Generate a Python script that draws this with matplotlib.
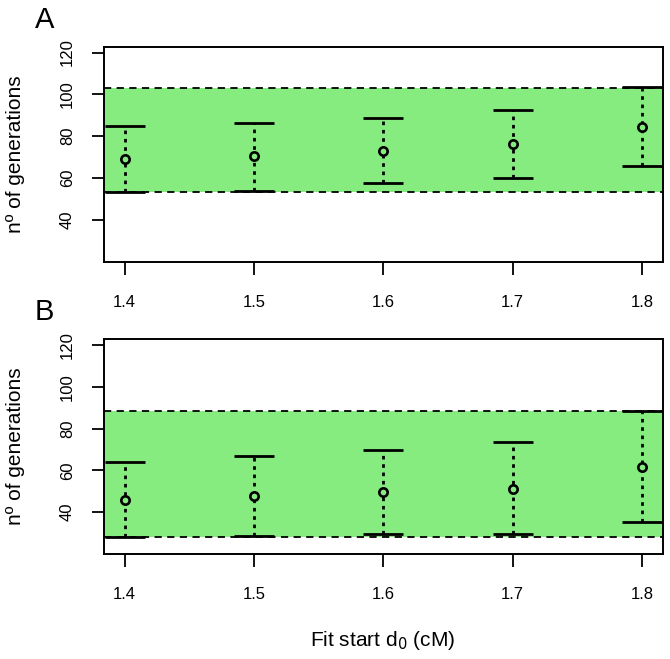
import matplotlib
matplotlib.use("Agg")
import matplotlib.pyplot as plt
import numpy as np

plt.rcParams['font.family'] = ['Liberation Sans', 'DejaVu Sans']

# ---- data ----
x_vals = [1.4, 1.5, 1.6, 1.7, 1.8]
x_ticklabels = ["1.4", "1.5", "1.6", "1.7", "1.8"]
y_ticks = [40, 60, 80, 100, 120]

# Panel A
a_mid = [69.2, 70.5, 73.0, 76.3, 84.4]
a_low = [53.3, 54.0, 57.4, 60.1, 65.9]
a_high = [85.0, 86.5, 88.9, 92.7, 103.3]
a_band = (53.3, 103.1)

# Panel B
b_mid = [46.0, 47.6, 49.5, 51.2, 61.8]
b_low = [28.3, 28.4, 29.4, 29.4, 35.3]
b_high = [63.9, 66.7, 69.6, 73.4, 88.4]
b_band = (28.3, 88.4)

GREEN = '#86EC80'
W, H = 670, 659
fig = plt.figure(figsize=(W / 100, H / 100), dpi=100)


def make_axes(top_px, bottom_px):
    left_px, right_px = 104, 662.7
    return fig.add_axes([left_px / W, 1 - bottom_px / H,
                         (right_px - left_px) / W, (bottom_px - top_px) / H])


def draw_panel(ax, mid, low, high, band):
    ax.set_xlim(1.384, 1.816)
    ax.set_ylim(20.0, 122.8)
    ax.axhspan(band[0], band[1], color=GREEN, lw=0, zorder=0)
    for yv in band:
        ax.axhline(yv, color='black', lw=1.3, ls=(0, (4, 3)), zorder=1)
    cap = 0.0155
    for xv, lo, hi, m in zip(x_vals, low, high, mid):
        ax.plot([xv, xv], [lo, hi], color='black', lw=2.0,
                ls=(0, (1.3, 1.7)), zorder=2)
        ax.plot([xv - cap, xv + cap], [lo, lo], color='black', lw=2.0,
                solid_capstyle='butt', zorder=3)
        ax.plot([xv - cap, xv + cap], [hi, hi], color='black', lw=2.0,
                solid_capstyle='butt', zorder=3)
    ax.plot(x_vals, mid, ls='none', marker='o', ms=6, mew=1.9,
            mec='black', mfc=GREEN, zorder=4)
    ax.set_xticks(x_vals)
    ax.set_xticklabels(x_ticklabels)
    ax.set_yticks(y_ticks)
    ax.set_yticklabels([str(v) for v in y_ticks], rotation=90, va='center')
    ax.tick_params(axis='x', length=9, width=1.3, pad=15, labelsize=12)
    ax.tick_params(axis='y', length=9, width=1.3, pad=12, labelsize=12)
    for s in ax.spines.values():
        s.set_linewidth(1.4)


axA = make_axes(46.7, 261.7)
draw_panel(axA, a_mid, a_low, a_high, a_band)
axB = make_axes(339, 554)
draw_panel(axB, b_mid, b_low, b_high, b_band)

fig.text(16 / W, 1 - 154.2 / H, "nº of generations", fontsize=15,
         rotation=90, ha='center', va='center')
fig.text(16 / W, 1 - 446.5 / H, "nº of generations", fontsize=15,
         rotation=90, ha='center', va='center')
fig.text(383 / W, 1 - 641 / H, "Fit start d$_0$ (cM)", fontsize=15,
         ha='center', va='center')

fig.text(35 / W, 1 - 28 / H, "A", fontsize=21, ha='left', va='baseline')
fig.text(35 / W, 1 - 320 / H, "B", fontsize=21, ha='left', va='baseline')

fig.savefig("out.png", dpi=100)
